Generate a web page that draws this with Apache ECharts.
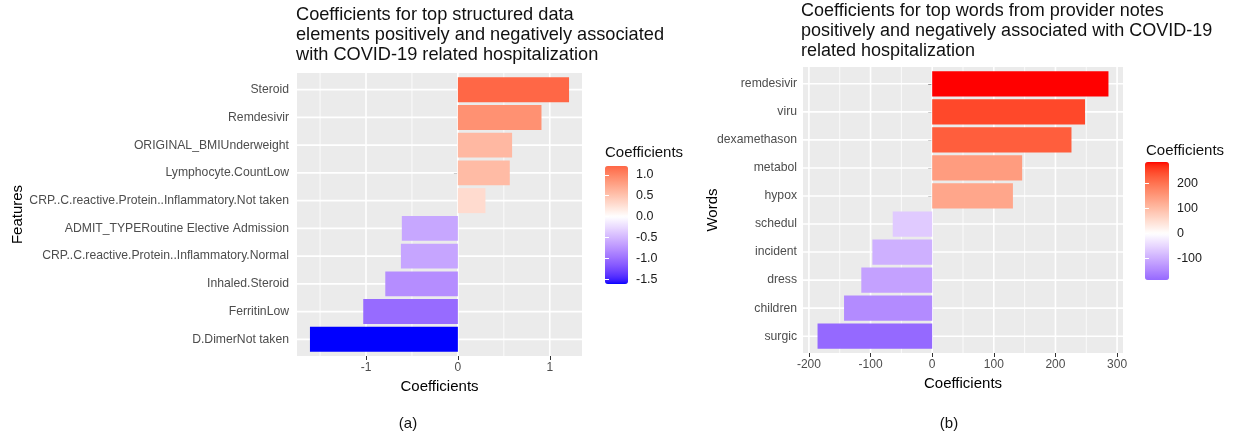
<!DOCTYPE html>
<html><head><meta charset="utf-8">
<script src="https://cdn.jsdelivr.net/npm/echarts@6/dist/echarts.min.js"></script>
<style>html,body{margin:0;padding:0;background:#fff}#c{width:1233px;height:438px}</style>
</head><body><div id="c"></div>
<script>
// ---------- data ----------
const featureNames = ['Steroid', 'Remdesivir', 'ORIGINAL_BMIUnderweight', 'Lymphocyte.CountLow',
  'CRP..C.reactive.Protein..Inflammatory.Not taken', 'ADMIT_TYPERoutine Elective Admission',
  'CRP..C.reactive.Protein..Inflammatory.Normal', 'Inhaled.Steroid', 'FerritinLow', 'D.DimerNot taken'];
const featureCoefs = [1.21, 0.91, 0.59, 0.565, 0.30, -0.61, -0.62, -0.79, -1.03, -1.61];
const wordNames = ['remdesivir', 'viru', 'dexamethason', 'metabol', 'hypox', 'schedul', 'incident', 'dress', 'children', 'surgic'];
const wordCoefs = [286, 248, 226, 146, 131, -64, -97, -115, -143, -186];
const xTicksA = [-1, 0, 1];
const xMinorA = [-1.5, -0.5, 0.5];
const xTicksB = [-200, -100, 0, 100, 200, 300];
const xMinorB = [-150, -50, 50, 150, 250];
const legendTicksA = [1.0, 0.5, 0.0, -0.5, -1.0, -1.5];
const legendTicksB = [200, 100, 0, -100];
const titleA = 'Coefficients for top structured data\nelements positively and negatively associated\nwith COVID-19 related hospitalization';
const titleB = 'Coefficients for top words from provider notes\npositively and negatively associated with COVID-19\nrelated hospitalization';

// ---------- colour (ggplot2 gradient2 in Lab: blue - white - red) ----------
const Xn = 0.95047, Yn = 1.0, Zn = 1.08883;
function lin(c) { c /= 255; return c <= 0.04045 ? c / 12.92 : Math.pow((c + 0.055) / 1.055, 2.4); }
function gam(c) { c = c <= 0.0031308 ? 12.92 * c : 1.055 * Math.pow(c, 1 / 2.4) - 0.055; return Math.round(Math.max(0, Math.min(1, c)) * 255); }
function fl(t) { return t > 0.008856 ? Math.cbrt(t) : 7.787 * t + 16 / 116; }
function fi(t) { return t > 0.206893 ? t * t * t : (t - 16 / 116) / 7.787; }
function toLab(rgb) {
  const r = lin(rgb[0]), g = lin(rgb[1]), b = lin(rgb[2]);
  const X = 0.4124 * r + 0.3576 * g + 0.1805 * b, Y = 0.2126 * r + 0.7152 * g + 0.0722 * b, Z = 0.0193 * r + 0.1192 * g + 0.9505 * b;
  const fx = fl(X / Xn), fy = fl(Y / Yn), fz = fl(Z / Zn);
  return [116 * fy - 16, 500 * (fx - fy), 200 * (fy - fz)];
}
function fromLab(l) {
  const fy = (l[0] + 16) / 116, fx = fy + l[1] / 500, fz = fy - l[2] / 200;
  const X = Xn * fi(fx), Y = Yn * fi(fy), Z = Zn * fi(fz);
  const r = 3.2406 * X - 1.5372 * Y - 0.4986 * Z, g = -0.9689 * X + 1.8758 * Y + 0.0415 * Z, b = 0.0557 * X - 0.2040 * Y + 1.0570 * Z;
  return 'rgb(' + gam(r) + ',' + gam(g) + ',' + gam(b) + ')';
}
const LAB_W = toLab([255, 255, 255]), LAB_R = toLab([255, 0, 0]), LAB_B = toLab([0, 0, 255]);
function colorAt(v, absMax) {
  const t = Math.max(-1, Math.min(1, v / absMax));
  const end = t >= 0 ? LAB_R : LAB_B, k = Math.abs(t);
  return fromLab([0, 1, 2].map(j => LAB_W[j] + (end[j] - LAB_W[j]) * k));
}
function ramp(min, max) {
  const absMax = Math.max(Math.abs(min), Math.abs(max)), out = [];
  for (let i = 0; i <= 80; i++) out.push(colorAt(min + (max - min) * i / 80, absMax));
  return out;
}

// ---------- helpers ----------
const FONT = 'Liberation Sans';
const minA = Math.min(...featureCoefs), maxA = Math.max(...featureCoefs);
const minB = Math.min(...wordCoefs), maxB = Math.max(...wordCoefs);
const padA = 0.05 * (maxA - minA), padB = 0.05 * (maxB - minB);
const catIdxA = featureNames.map((_, i) => i + 1);
const catIdxB = wordNames.map((_, i) => i + 1);

function gridData(minor, major, cats) {
  return minor.map(v => [v, 0]).concat(major.map(v => [v, 1])).concat(cats.map(c => [c, 2]));
}
function gridRender(xMin) {
  return function (params, api) {
    const cs = params.coordSys, v = api.value(0), kind = api.value(1);
    let shape;
    if (kind === 2) {
      const y = api.coord([xMin, v])[1];
      shape = { x1: cs.x, y1: y, x2: cs.x + cs.width, y2: y };
    } else {
      const x = api.coord([v, 1])[0];
      shape = { x1: x, y1: cs.y, x2: x, y2: cs.y + cs.height };
    }
    return { type: 'line', shape: shape, style: { stroke: '#ffffff', lineWidth: kind === 0 ? 0.8 : 1.6 } };
  };
}
function barRender(params, api) {
  const v = api.value(0), i = api.value(1);
  const p0 = api.coord([0, i]), p1 = api.coord([v, i]);
  const h = api.size([0, 0.9])[1];
  return { type: 'rect', shape: { x: Math.min(p0[0], p1[0]), y: p0[1] - h / 2, width: Math.abs(p1[0] - p0[0]), height: h },
    style: { fill: api.visual('color') } };
}
function mainX(gi, min, max, ticks, gap) {
  return { gridIndex: gi, type: 'value', min: min, max: max,
    splitLine: { show: false }, axisLine: { show: false },
    axisTick: { show: true, customValues: ticks, length: 4, lineStyle: { color: '#333333', width: 1 } },
    axisLabel: { customValues: ticks, color: '#4D4D4D', fontSize: 12, fontFamily: FONT, margin: 6, formatter: v => String(v) },
    name: 'Coefficients', nameLocation: 'middle', nameGap: gap,
    nameTextStyle: { color: '#000', fontSize: 15, fontFamily: FONT } };
}
function mainY(gi, names, idx, title, gap, margin) {
  return { gridIndex: gi, type: 'value', min: 0.4, max: 10.6, inverse: true,
    splitLine: { show: false }, axisLine: { show: false },
    axisTick: { show: true, customValues: idx, length: 4, lineStyle: { color: '#333333', width: 1 } },
    axisLabel: { customValues: idx, color: '#4D4D4D', fontSize: 12.2, fontFamily: FONT, margin: margin,
      formatter: v => names[Math.round(v) - 1] },
    name: title, nameLocation: 'middle', nameGap: gap, nameRotate: 90, nameMoveOverlap: false,
    nameTextStyle: { color: '#000', fontSize: 15, fontFamily: FONT } };
}
function legendY(gi, min, max, ticks, pos, fmt) {
  return { gridIndex: gi, type: 'value', min: min, max: max, position: pos, z: 10,
    splitLine: { show: false }, axisLine: { show: false },
    axisTick: { show: true, inside: true, customValues: ticks, length: 4, lineStyle: { color: '#ffffff', width: 1 } },
    axisLabel: { show: pos === 'right', customValues: ticks, color: '#1a1a1a', fontSize: 12.5, fontFamily: FONT, margin: 8, formatter: fmt } };
}

const option = {
  animation: false,
  backgroundColor: '#ffffff',
  title: [
    { text: titleA, left: 296, top: 5, padding: 0, textStyle: { fontSize: 18.2, lineHeight: 20, fontWeight: 'normal', color: '#111', fontFamily: FONT } },
    { text: titleB, left: 801, top: 1, padding: 0, textStyle: { fontSize: 18, lineHeight: 20, fontWeight: 'normal', color: '#111', fontFamily: FONT } },
    { text: 'Coefficients', left: 605, top: 145, padding: 0, textStyle: { fontSize: 15, lineHeight: 16, fontWeight: 'normal', color: '#111', fontFamily: FONT } },
    { text: 'Coefficients', left: 1146, top: 143, padding: 0, textStyle: { fontSize: 15, lineHeight: 16, fontWeight: 'normal', color: '#111', fontFamily: FONT } }
  ],
  grid: [
    { left: 297, top: 73, width: 285, height: 283, show: true, backgroundColor: '#EBEBEB', borderWidth: 0 },
    { left: 803, top: 67, width: 320, height: 286, show: true, backgroundColor: '#EBEBEB', borderWidth: 0 },
    { left: 605, top: 166, width: 23, height: 118, show: false },
    { left: 1145, top: 162, width: 24, height: 118, show: false }
  ],
  xAxis: [
    mainX(0, minA - padA, maxA + padA, xTicksA, 20),
    mainX(1, minB - padB, maxB + padB, xTicksB, 20),
    { gridIndex: 2, type: 'value', show: false, min: 0, max: 1 },
    { gridIndex: 3, type: 'value', show: false, min: 0, max: 1 }
  ],
  yAxis: [
    mainY(0, featureNames, catIdxA, 'Features', 272, 8),
    mainY(1, wordNames, catIdxB, 'Words', 83, 6),
    legendY(2, minA, maxA, legendTicksA, 'right', v => v.toFixed(1)),
    legendY(2, minA, maxA, legendTicksA, 'left', v => ''),
    legendY(3, minB, maxB, legendTicksB, 'right', v => String(v)),
    legendY(3, minB, maxB, legendTicksB, 'left', v => '')
  ],
  visualMap: [
    { type: 'continuous', seriesIndex: 1, dimension: 0, min: minA, max: maxA, inRange: { color: ramp(minA, maxA) },
      left: 605, top: 166, itemWidth: 23, itemHeight: 118, padding: 0, calculable: false, hoverLink: false, orient: 'vertical' },
    { type: 'continuous', seriesIndex: 3, dimension: 0, min: minB, max: maxB, inRange: { color: ramp(minB, maxB) },
      left: 1145, top: 162, itemWidth: 24, itemHeight: 118, padding: 0, calculable: false, hoverLink: false, orient: 'vertical' }
  ],
  graphic: [
    { type: 'text', x: 408, y: 424, style: { text: '(a)', fontSize: 15, fontFamily: FONT, fill: '#111', textAlign: 'center', textVerticalAlign: 'middle' } },
    { type: 'text', x: 949, y: 424, style: { text: '(b)', fontSize: 15, fontFamily: FONT, fill: '#111', textAlign: 'center', textVerticalAlign: 'middle' } }
  ],
  series: [
    { type: 'custom', xAxisIndex: 0, yAxisIndex: 0, z: 1, silent: true, encode: { x: 0, y: 1 },
      renderItem: gridRender(minA - padA), data: gridData(xMinorA, xTicksA, catIdxA) },
    { type: 'custom', xAxisIndex: 0, yAxisIndex: 0, z: 2, silent: true, encode: { x: 0, y: 1 },
      renderItem: barRender, data: featureCoefs.map((v, i) => [v, i + 1]) },
    { type: 'custom', xAxisIndex: 1, yAxisIndex: 1, z: 1, silent: true, encode: { x: 0, y: 1 },
      renderItem: gridRender(minB - padB), data: gridData(xMinorB, xTicksB, catIdxB) },
    { type: 'custom', xAxisIndex: 1, yAxisIndex: 1, z: 2, silent: true, encode: { x: 0, y: 1 },
      renderItem: barRender, data: wordCoefs.map((v, i) => [v, i + 1]) }
  ]
};
const chart = echarts.init(document.getElementById('c'), null, { renderer: 'canvas' });
chart.setOption(option);
</script>
</body></html>
